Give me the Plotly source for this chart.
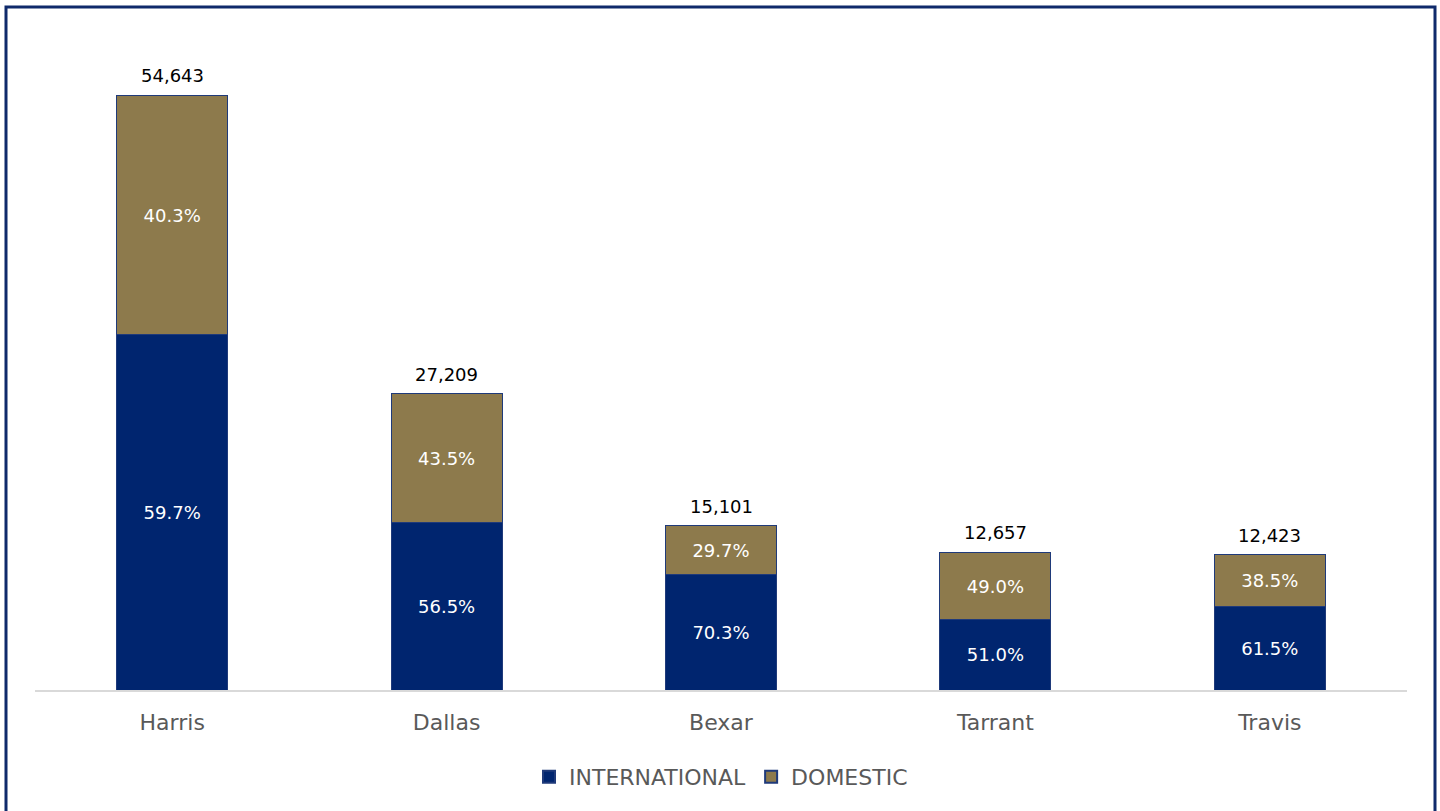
import plotly.graph_objects as go

# Visitor totals by county and the international / domestic split (%)
counties = ["Harris", "Dallas", "Bexar", "Tarrant", "Travis"]
totals = [54643, 27209, 15101, 12657, 12423]
international_pct = [59.7, 56.5, 70.3, 51.0, 61.5]
domestic_pct = [40.3, 43.5, 29.7, 49.0, 38.5]

NAVY = "#00256F"
GOLD = "#8D7A4C"
FONT = "'DejaVu Sans', sans-serif"

W, H = 1440, 811
L, R, T, B = 35, 33, 37, 121

intl_vals = [t * p / 100 for t, p in zip(totals, international_pct)]
dom_vals = [t * p / 100 for t, p in zip(totals, domestic_pct)]

fig = go.Figure()
fig.add_trace(go.Bar(
    x=counties, y=intl_vals, name="INTERNATIONAL",
    marker=dict(color=NAVY, line=dict(color="#1F3A7A", width=1)),
    text=[f"{p:.1f}%" for p in international_pct],
    textposition="inside", insidetextanchor="middle",
    textfont=dict(color="white", size=18, family=FONT),
    hoverinfo="skip",
))
fig.add_trace(go.Bar(
    x=counties, y=dom_vals, name="DOMESTIC",
    marker=dict(color=GOLD, line=dict(color="#1F3A7A", width=1)),
    text=[f"{p:.1f}%" for p in domestic_pct],
    textposition="inside", insidetextanchor="middle",
    textfont=dict(color="white", size=18, family=FONT),
    hoverinfo="skip",
))

# Total labels above each stack
for c, t in zip(counties, totals):
    fig.add_annotation(
        x=c, y=t, text=f"{t:,}", showarrow=False,
        yanchor="bottom", yshift=7,
        font=dict(color="#000000", size=18, family=FONT),
    )

# Outer frame around the chart
pw, ph = W - L - R, H - T - B
def px_x(v):
    return (v - L) / pw
def px_y(v):
    return (H - B - v) / ph

fig.add_shape(
    type="rect", xref="paper", yref="paper",
    x0=px_x(6), x1=px_x(1435), y0=px_y(830), y1=px_y(7),
    line=dict(color="#0F2A6B", width=3), fillcolor="rgba(0,0,0,0)",
    layer="above",
)

fig.update_layout(
    width=W, height=H,
    margin=dict(l=L, r=R, t=T, b=B),
    barmode="stack", bargap=0.596,
    paper_bgcolor="white", plot_bgcolor="white",
    font=dict(family=FONT, color="#595959"),
    showlegend=True,
    legend=dict(
        orientation="h", x=0.5, xanchor="center",
        y=px_y(777), yanchor="middle",
        font=dict(size=22, color="#595959", family=FONT),
        itemsizing="constant", traceorder="normal",
    ),
    xaxis=dict(
        showline=True, linecolor="#D9D9D9", linewidth=1.5,
        tickfont=dict(size=22, color="#595959", family=FONT),
        ticks="", ticklabelstandoff=12,
        fixedrange=True,
    ),
    yaxis=dict(
        range=[0, 60000], visible=False, showgrid=False, zeroline=False,
        fixedrange=True,
    ),
)

fig.write_html("out.html")
